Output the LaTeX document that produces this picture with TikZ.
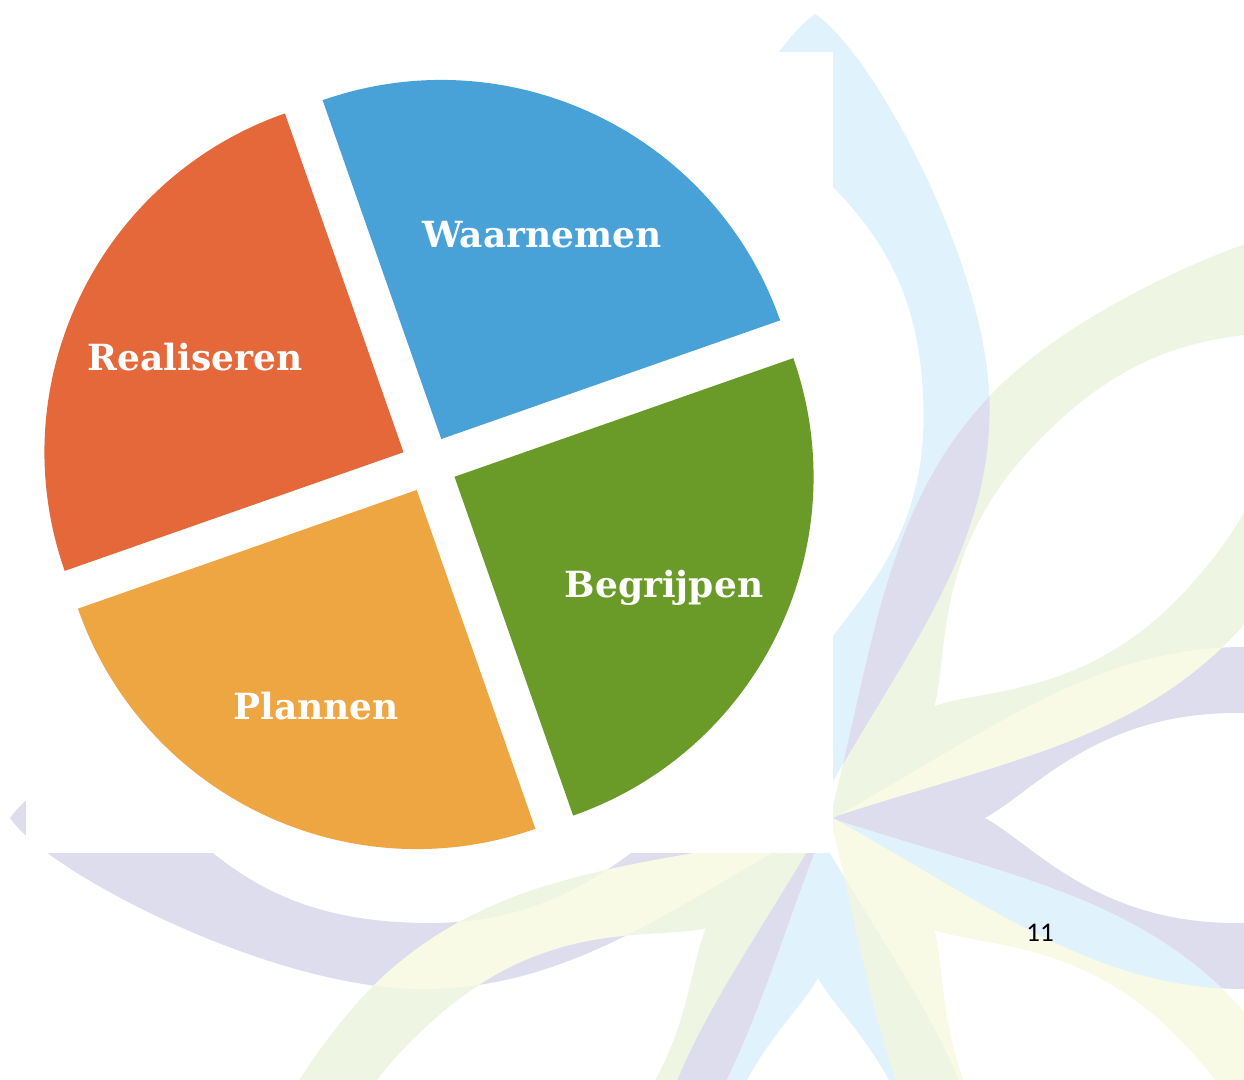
\documentclass[tikz,border=0pt]{standalone}
\usepackage{fontspec}
\newfontfamily\labelfont{DejaVu Serif}
\newfontfamily\numfont{Carlito}
\definecolor{pieblue}{RGB}{72,162,216}
\definecolor{piered}{RGB}{229,104,58}
\definecolor{pieorange}{RGB}{238,166,66}
\definecolor{piegreen}{RGB}{106,155,41}
\definecolor{pblue}{RGB}{224,242,251}
\definecolor{ppurple}{RGB}{222,221,238}
\definecolor{pgreen}{RGB}{238,245,227}
\definecolor{pyellow}{RGB}{248,250,230}
\newcommand\petalouter{(0,0) .. controls (150,87) and (250,171) .. (393,171) .. controls (536,171) and (750,55) .. (786,0) .. controls (750,-55) and (536,-171) .. (393,-171) .. controls (250,-171) and (150,-87) .. (0,0) -- cycle}
\newcommand\petalinner{(145,0) .. controls (190,25) and (250,105) .. (385,105) .. controls (510,105) and (570,60) .. (630,0) .. controls (570,-60) and (510,-105) .. (385,-105) .. controls (250,-105) and (190,-25) .. (145,0) -- cycle}
\newcommand\petalfill[2]{\fill[#1,even odd rule,#2] \petalouter \petalinner;}
\newcommand\petalovl[4]{\begin{scope}
 \clip[#2] \petalouter;
 \fill[#1,even odd rule,#3] \petalouter \petalinner;
 \clip[#2] \petalinner;
 \fill[#4,even odd rule,#3] \petalouter \petalinner;
 \end{scope}}
\tikzset{
 bu/.style={shift={(822,800)},rotate=90.5},
 bd/.style={shift={(818,833)},rotate=-90},
 pr/.style={shift={(833,818)},rotate=0,xscale=823/786},
 pl/.style={shift={(833,818)},rotate=180,xscale=823/786},
 gur/.style={shift={(830,818)},rotate=47,xscale=830/786},
 ydr/.style={shift={(830,818)},rotate=-47,xscale=830/786},
 gdl/.style={shift={(823,830)},rotate=-140,xscale=830/786},
 yul/.style={shift={(833,815)},rotate=135,xscale=830/786},
 lbl/.style={font=\labelfont\bfseries\fontsize{36}{40}\selectfont, text=white, inner sep=0pt, anchor=base},
 pnum/.style={font=\numfont\fontsize{27}{30}\selectfont, text=black, inner sep=0pt, anchor=base}
}
\begin{document}
\begin{tikzpicture}[x=1pt,y=-1pt]
\useasboundingbox (0,0) rectangle (1244,1079);
\fill[white] (0,0) rectangle (1244,1079);
% watermark logo
\petalfill{pyellow}{yul}
\petalfill{pblue}{bu}
\petalfill{pblue}{bd}
\petalfill{ppurple}{pr}
\petalfill{ppurple}{pl}
\petalfill{pgreen}{gur}
\petalfill{pyellow}{ydr}
\petalfill{pgreen}{gdl}
\petalovl{ppurple}{bu}{gur}{pgreen}
\petalovl{pyellow}{gur}{pr}{ppurple}
\petalovl{pblue}{pr}{ydr}{pyellow}
\petalovl{pgreen}{ydr}{bd}{pblue}
\petalovl{ppurple}{bd}{gdl}{pgreen}
\petalovl{pyellow}{gdl}{pl}{ppurple}
% white panel
\fill[white] (25.5,52) rectangle (833,852.5);
% exploded pie
\begin{scope}[shift={(429,464.5)},rotate=19.3]
 \begin{scope}\clip (20,-20) rectangle (420,-420); \fill[pieblue] (20,-20) circle[radius=359]; \end{scope}
 \begin{scope}\clip (20,20) rectangle (420,420); \fill[piegreen] (20,20) circle[radius=359]; \end{scope}
 \begin{scope}\clip (-20,20) rectangle (-420,420); \fill[pieorange] (-20,20) circle[radius=359]; \end{scope}
 \begin{scope}\clip (-20,-20) rectangle (-420,-420); \fill[piered] (-20,-20) circle[radius=359]; \end{scope}
\end{scope}
% labels
\node[lbl] (w) at (542,247) {Waarnemen};
\node[lbl] (r) at (195,370) {Realiseren};
\node[lbl] (b) at (664,597) {Begrijpen};
\node[lbl] (p) at (316,719) {Plannen};
\node[pnum] (pg) at (1040,941) {11};
\end{tikzpicture}
\end{document}
